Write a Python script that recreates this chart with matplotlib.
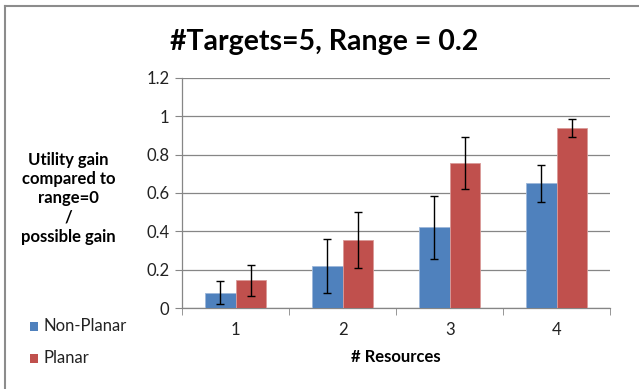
import numpy as np
import matplotlib.pyplot as plt
from matplotlib.lines import Line2D
from matplotlib.patches import Rectangle

plt.rcParams['font.family'] = ['Lato', 'DejaVu Sans']

resources = ["1", "2", "3", "4"]
non_planar = [0.08, 0.22, 0.42, 0.65]
non_planar_err = [0.06, 0.14, 0.165, 0.095]
planar = [0.145, 0.355, 0.757, 0.937]
planar_err = [0.08, 0.145, 0.135, 0.047]

blue = "#4F81BD"
red = "#C0504D"
grid = "#868686"

fig = plt.figure(figsize=(6.39, 3.89), dpi=100)
ax = fig.add_axes([0.285, 0.208, 0.67, 0.592])

x = np.arange(len(resources))
w = 0.287
ax.bar(x - w / 2, non_planar, w, color=blue, edgecolor="#9DB7DA", linewidth=0.6,
       yerr=non_planar_err, capsize=3, error_kw=dict(elinewidth=1, ecolor="black", capthick=1),
       zorder=3, label="Non-Planar")
ax.bar(x + w / 2, planar, w, color=red, edgecolor="#DA9A98", linewidth=0.6,
       yerr=planar_err, capsize=3, error_kw=dict(elinewidth=1, ecolor="black", capthick=1),
       zorder=3, label="Planar")

ax.set_xlim(-0.5, 3.5)
ax.set_ylim(0, 1.2)
ax.set_yticks(np.arange(0, 1.21, 0.2))
ax.set_yticklabels(["0", "0.2", "0.4", "0.6", "0.8", "1", "1.2"], fontsize=12, color="#222222")
ax.set_xticks(x)
ax.set_xticklabels(resources, fontsize=12, color="#222222")
ax.set_xticks(np.arange(-0.5, 3.6, 1), minor=True)
ax.tick_params(axis='x', which='major', length=0, pad=10)
ax.tick_params(axis='x', which='minor', length=5, color=grid, direction='out')
ax.tick_params(axis='y', length=5, color=grid, direction='out', pad=4)
ax.yaxis.grid(True, color=grid, linewidth=0.9, zorder=0)
ax.set_axisbelow(True)
for s in ['top', 'right']:
    ax.spines[s].set_visible(False)
for s in ['left', 'bottom']:
    ax.spines[s].set_color(grid)
    ax.spines[s].set_linewidth(0.9)

fig.text(0.507, 0.892, "#Targets=5, Range = 0.2", ha='center', va='center',
         fontsize=20.5, fontweight='bold')
fig.text(0.107, 0.49, "Utility gain\ncompared to\nrange=0\n/\npossible gain", ha='center',
         va='center', fontsize=12, fontweight='bold', linespacing=1.25)
fig.text(0.62, 0.082, "# Resources", ha='center', va='center', fontsize=12, fontweight='bold')

# legend on the left
for label, col, yy in [("Non-Planar", blue, 0.162), ("Planar", red, 0.080)]:
    fig.patches.append(Rectangle((0.047, yy - 0.012), 0.0125, 0.022, transform=fig.transFigure,
                                 facecolor=col, edgecolor='none'))
    fig.text(0.068, yy, label, ha='left', va='center', fontsize=12, color="#222222")

# chart border (top and left visible)
fig.lines.append(Line2D([0.008, 1.0], [0.985, 0.985], transform=fig.transFigure, color="#8c8c8c", linewidth=1.5))
fig.lines.append(Line2D([0.008, 0.008], [0.0, 0.985], transform=fig.transFigure, color="#8c8c8c", linewidth=1.5))

fig.savefig("out.png", dpi=100)
